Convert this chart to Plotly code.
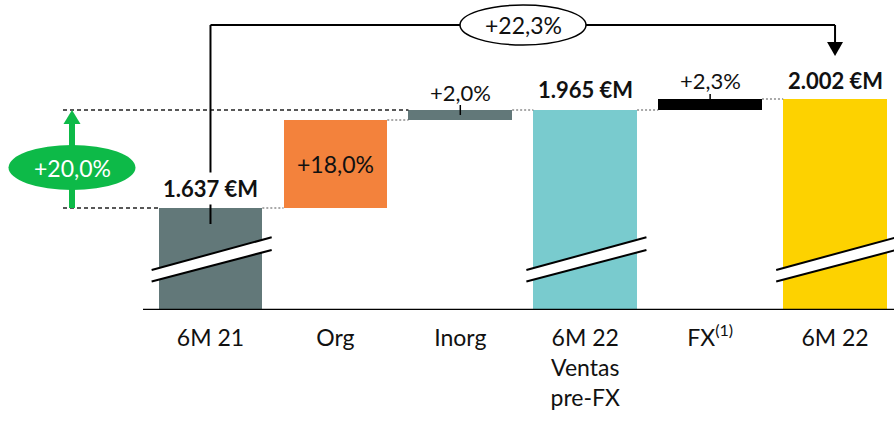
import plotly.graph_objects as go

# ---------------- data ----------------
categories = ["6M 21", "Org", "Inorg", "6M 22<br>Ventas<br>pre-FX", "FX<sup>(1)</sup>", "6M 22"]
start_value = 1637          # 6M 21 sales (M EUR)
org_delta = 294.7           # organic growth contribution (+18,0%)
inorg_delta = 33.3          # inorganic contribution (+2,0%)
prefx_total = 1965          # 6M 22 sales pre-FX
fx_delta = 37               # FX contribution (+2,3%)
end_value = 2002            # 6M 22 sales
total_labels = ["1.637 €M", "1.965 €M", "2.002 €M"]
step_labels = ["+18,0%", "+2,0%", "+2,3%"]
growth_organic_label = "+20,0%"
growth_total_label = "+22,3%"

colors = ["#627879", "#F3823C", "#627879", "#79CBCE", "#000000", "#FDD200"]

# bars: base + height
bases = [0, start_value, start_value + org_delta, 0, prefx_total, 0]
heights = [start_value, org_delta, inorg_delta, prefx_total, fx_delta, end_value]
xs = list(range(len(categories)))

# ---------------- geometry helpers ----------------
W, H = 894, 421
PLOT_H = 310
Y0, Y1 = 1295.6, 2333.2
X0, X1 = -1.685, 5.472
BW = 0.83
HALF = BW / 2


def vy(py):
    return Y0 + (PLOT_H - py) * (Y1 - Y0) / PLOT_H


def vx(px):
    return X0 + px * (X1 - X0) / W


DX = (X1 - X0) / W  # data units per pixel (x)

FONT = "Lato, 'Open Sans', sans-serif"

fig = go.Figure()
fig.add_trace(go.Bar(
    x=xs, y=heights, base=bases, width=BW,
    marker=dict(color=colors, line=dict(width=0)),
    hoverinfo="skip", showlegend=False,
))

shapes = []

# baseline
shapes.append(dict(type="line", xref="x", yref="y", x0=vx(143), x1=X1, y0=Y0 + 0.3, y1=Y0 + 0.3,
                   line=dict(color="#000", width=2.2)))

# dotted connectors between bars
tops = [start_value, start_value + org_delta, prefx_total, prefx_total, end_value]
for i, t in enumerate(tops):
    shapes.append(dict(type="line", xref="x", yref="y", x0=i + HALF, x1=i + 1 - HALF, y0=t, y1=t,
                       line=dict(color="#555", width=1.1, dash="2px,2px")))

# long dashed guide lines (left)
shapes.append(dict(type="line", xref="x", yref="y", x0=vx(63), x1=-HALF, y0=start_value, y1=start_value,
                   line=dict(color="#222", width=1.3, dash="4px,3px")))
shapes.append(dict(type="line", xref="x", yref="y", x0=vx(63), x1=2 - HALF, y0=prefx_total, y1=prefx_total,
                   line=dict(color="#222", width=1.3, dash="4px,3px")))

# axis break marks on total bars
for i in (0, 3, 5):
    xl, xr = i - 0.471, i + 0.49
    yu_l, yu_r = vy(270), vy(237.3)
    yl_l, yl_r = vy(281.5), vy(250)
    shapes.append(dict(type="path", xref="x", yref="y",
                       path=f"M {xl},{yu_l} L {xr},{yu_r} L {xr},{yl_r} L {xl},{yl_l} Z",
                       fillcolor="white", line=dict(width=0)))
    shapes.append(dict(type="line", xref="x", yref="y", x0=xl, x1=xr, y0=yu_l, y1=yu_r,
                       line=dict(color="#000", width=2)))
    shapes.append(dict(type="line", xref="x", yref="y", x0=xl, x1=xr, y0=yl_l, y1=yl_r,
                       line=dict(color="#000", width=2)))

# top bracket (6M 21 -> 6M 22)
shapes.append(dict(type="line", xref="x", yref="y", x0=0, x1=0, y0=vy(25), y1=vy(224),
                   line=dict(color="#000", width=2)))
shapes.append(dict(type="line", xref="x", yref="y", x0=0, x1=5, y0=vy(25), y1=vy(25),
                   line=dict(color="#000", width=2)))
shapes.append(dict(type="line", xref="x", yref="y", x0=5, x1=5, y0=vy(25), y1=vy(43),
                   line=dict(color="#000", width=2)))
shapes.append(dict(type="path", xref="x", yref="y",
                   path=f"M {5 - 8 * DX},{vy(42)} L {5 + 8 * DX},{vy(42)} L 5,{vy(56)} Z",
                   fillcolor="#000", line=dict(width=0)))
# ellipse for total growth
shapes.append(dict(type="circle", xref="x", yref="y", x0=vx(460), x1=vx(586), y0=vy(5), y1=vy(45),
                   fillcolor="white", line=dict(color="#000", width=1.5)))

# small leader ticks
shapes.append(dict(type="line", xref="x", yref="y", x0=2, x1=2, y0=vy(105), y1=vy(115),
                   line=dict(color="#000", width=1.5)))
shapes.append(dict(type="line", xref="x", yref="y", x0=4, x1=4, y0=vy(94), y1=vy(102),
                   line=dict(color="#000", width=1.5)))

# green growth arrow (+20,0%)
GREEN = "#0DBA48"
gx = vx(72)
shapes.append(dict(type="line", xref="x", yref="y", x0=gx, x1=gx, y0=start_value, y1=vy(122),
                   line=dict(color=GREEN, width=6)))
shapes.append(dict(type="path", xref="x", yref="y",
                   path=f"M {gx - 8.5 * DX},{vy(124)} L {gx + 8.5 * DX},{vy(124)} L {gx},{prefx_total} Z",
                   fillcolor=GREEN, line=dict(width=0)))
shapes.append(dict(type="circle", xref="x", yref="y", x0=vx(8.5), x1=vx(135.5), y0=vy(145), y1=vy(190),
                   fillcolor=GREEN, line=dict(width=0)))

annotations = []
TXT = "#111"
# totals (bold)
annotations.append(dict(x=0, y=vy(188), text=f"<b>{total_labels[0]}</b>", showarrow=False,
                        font=dict(family=FONT, size=22, color=TXT), bgcolor="white", borderpad=2,
                        xanchor="center", yanchor="middle"))
annotations.append(dict(x=3, y=vy(89), text=f"<b>{total_labels[1]}</b>", showarrow=False,
                        font=dict(family=FONT, size=22, color=TXT), xanchor="center", yanchor="middle"))
annotations.append(dict(x=5, y=vy(80), text=f"<b>{total_labels[2]}</b>", showarrow=False,
                        font=dict(family=FONT, size=22, color=TXT), xanchor="center", yanchor="middle"))
# step labels
annotations.append(dict(x=1, y=vy(164), text=step_labels[0], showarrow=False,
                        font=dict(family=FONT, size=23, color=TXT), xanchor="center", yanchor="middle"))
annotations.append(dict(x=2, y=vy(92), text=step_labels[1], showarrow=False,
                        font=dict(family=FONT, size=22, color=TXT), xanchor="center", yanchor="middle"))
annotations.append(dict(x=4, y=vy(80), text=step_labels[2], showarrow=False,
                        font=dict(family=FONT, size=22, color=TXT), xanchor="center", yanchor="middle"))
# growth labels
annotations.append(dict(x=gx, y=vy(167.5), text=growth_organic_label, showarrow=False,
                        font=dict(family=FONT, size=23, color="white"), xanchor="center", yanchor="middle"))
annotations.append(dict(x=vx(523), y=vy(25), text=growth_total_label, showarrow=False,
                        font=dict(family=FONT, size=23, color=TXT), xanchor="center", yanchor="middle"))

fig.update_layout(
    width=W, height=H,
    margin=dict(l=0, r=0, t=0, b=H - PLOT_H),
    paper_bgcolor="white", plot_bgcolor="white",
    shapes=shapes, annotations=annotations,
    bargap=0,
    xaxis=dict(range=[X0, X1], tickmode="array", tickvals=xs, ticktext=categories,
               showgrid=False, zeroline=False, showline=False, ticks="",
               tickfont=dict(family=FONT, size=23, color=TXT), ticklabelstandoff=12,
               fixedrange=True),
    yaxis=dict(range=[Y0, Y1], visible=False, showgrid=False, zeroline=False, fixedrange=True),
    font=dict(family=FONT),
)

fig.write_html("out.html", config={"displayModeBar": False},
               post_script="document.body.style.margin='0';document.body.style.overflow='hidden';")
